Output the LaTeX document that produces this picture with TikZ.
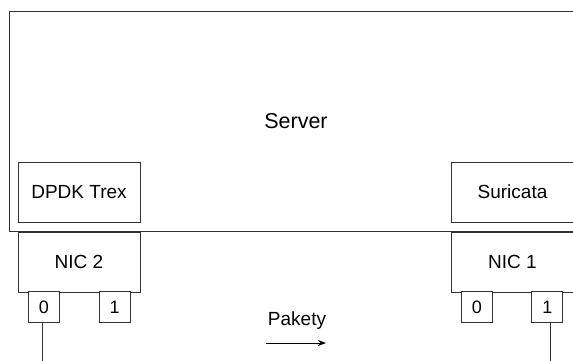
\documentclass[tikz,border=0pt]{standalone}
\usepackage{fontspec}
\setmainfont{Liberation Sans}
\usepackage{tikz}
\usetikzlibrary{arrows.meta,positioning,calc}
\definecolor{srvink}{HTML}{333333}
\tikzset{
  bx/.style={draw=srvink, line width=1pt, align=center, inner sep=0pt, font=\fontsize{19}{22}\selectfont},
  app/.style={bx, minimum width=122, minimum height=60},
  nic/.style={bx, fill=white, minimum width=122, minimum height=60},
  port/.style={bx, fill=white, minimum width=31, minimum height=31, font=\fontsize{18}{21}\selectfont},
  wire/.style={draw=srvink, line width=1pt},
  arr/.style={-{Stealth[length=8pt, width=6pt]}, line width=1pt, color=black},
}
\begin{document}
\begin{tikzpicture}[x=1pt, y=-1pt]
    \useasboundingbox (0,0) rectangle (573,360);
    \node[bx, minimum width=574, minimum height=220, font=\fontsize{21.5}{25}\selectfont] (server) at (296,121) {Server};
    \node[app] (trex) at (79,192) {DPDK Trex};
    \node[app] (suri) at (512.5,192) {Suricata};
    \node[nic] (nic2) at (79,262) {NIC 2};
    \node[nic] (nic1) at (512.5,262) {NIC 1};
    \foreach \nm/\x/\tx in {p20/44/0, p21/114.7/1, p10/476.8/0, p11/547.3/1}
    {
      \node[port] (\nm) at (\x,307) {\tx};
    }
    % cables leave the picture at the bottom
    \coordinate (outL) at (42.3,361);
    \coordinate (outR) at (550.3,361);
    \draw[wire] (p20.south -| outL) -- (outL);
    \draw[wire] (p11.south -| outR) -- (outR);
    \node[font=\fontsize{19}{22}\selectfont] (pkt) at (297,321) {Pakety};
    \coordinate (a0) at (266,343);
    \coordinate (a1) at (326,343);
    \draw[arr] (a0) -- (a1);
\end{tikzpicture}
\end{document}
